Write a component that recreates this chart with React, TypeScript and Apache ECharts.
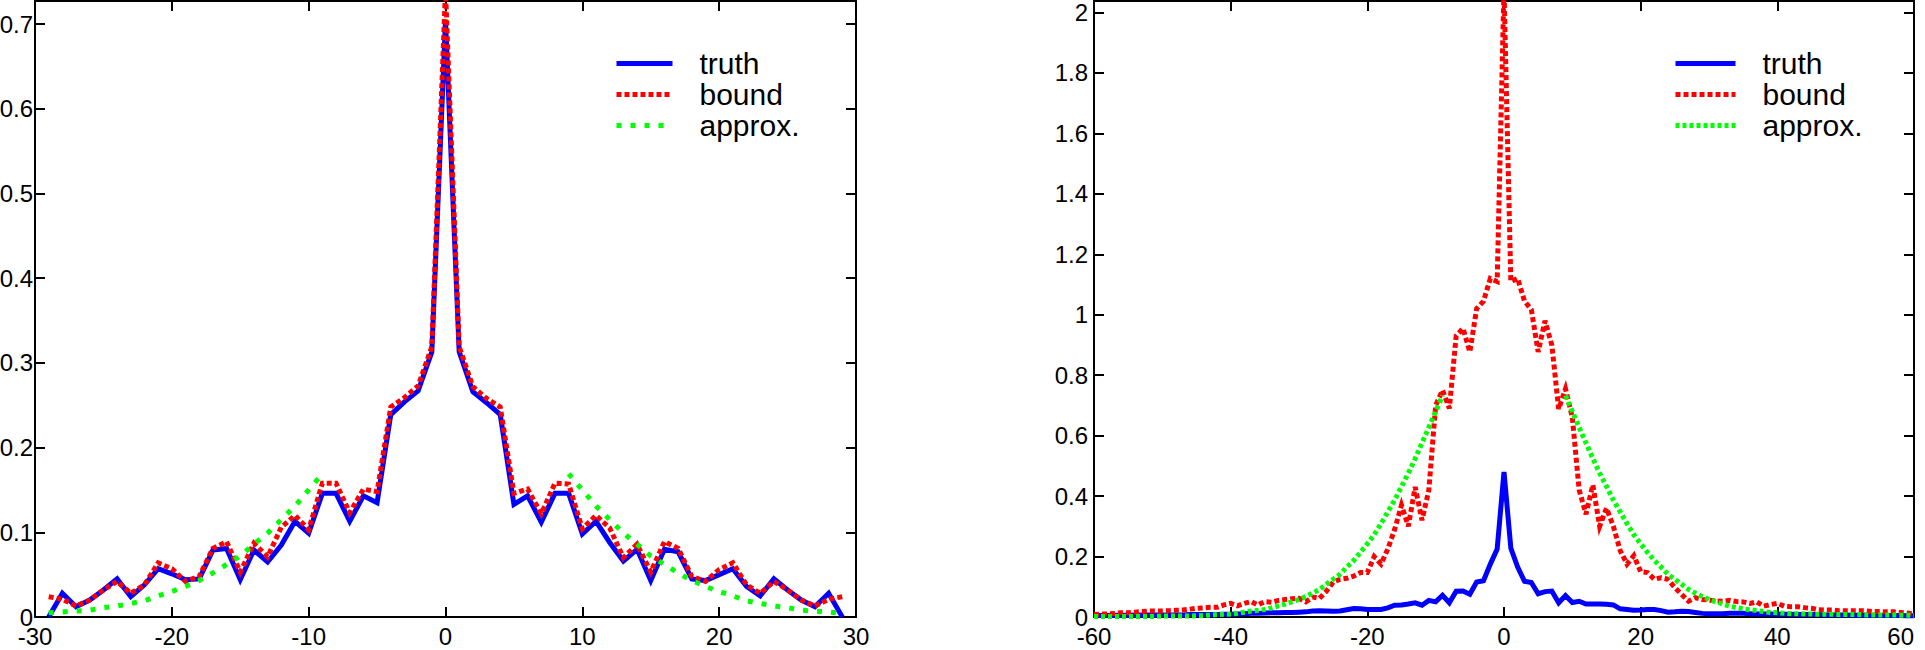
import { useEffect, useRef } from "react";
import * as echarts from "echarts";

// lags (x positions) of the two panels
const leftLags = [
  -29, -28, -27, -26, -25, -24, -23, -22, -21, -20, -19, -18, -17, -16, -15,
  -14, -13, -12, -11, -10, -9, -8, -7, -6, -5, -4, -3, -2, -1, 0, 1, 2, 3, 4,
  5, 6, 7, 8, 9, 10, 11, 12, 13, 14, 15, 16, 17, 18, 19, 20, 21, 22, 23, 24,
  25, 26, 27, 28, 29,
];

const leftTruth = [
  0, 0.028, 0.012, 0.02, 0.032, 0.045, 0.024, 0.038, 0.057, 0.051, 0.044,
  0.045, 0.079, 0.081, 0.044, 0.079, 0.065, 0.085, 0.113, 0.099, 0.146, 0.146,
  0.113, 0.143, 0.135, 0.239, 0.254, 0.267, 0.313, 0.705, 0.313, 0.266, 0.253,
  0.239, 0.133, 0.143, 0.112, 0.146, 0.146, 0.098, 0.113, 0.088, 0.066, 0.08,
  0.043, 0.08, 0.077, 0.045, 0.043, 0.05, 0.057, 0.036, 0.025, 0.045, 0.032,
  0.02, 0.012, 0.028, 0,
];

const leftBound = [
  0.024, 0.021, 0.013, 0.02, 0.032, 0.042, 0.028, 0.038, 0.064, 0.057, 0.042,
  0.048, 0.081, 0.089, 0.053, 0.087, 0.071, 0.106, 0.12, 0.103, 0.158, 0.158,
  0.123, 0.151, 0.148, 0.248, 0.259, 0.273, 0.319, 0.74, 0.319, 0.272, 0.258,
  0.248, 0.146, 0.151, 0.122, 0.158, 0.157, 0.104, 0.12, 0.105, 0.07, 0.086,
  0.053, 0.089, 0.081, 0.048, 0.042, 0.056, 0.064, 0.038, 0.028, 0.042, 0.032,
  0.02, 0.013, 0.021, 0.024,
];

const leftApprox = [
  0.005, 0.006, 0.007, 0.008, 0.011, 0.013, 0.016, 0.019, 0.025, 0.03, 0.036,
  0.043, 0.052, 0.062, 0.072, 0.086, 0.099, 0.115, 0.131, 0.15, 0.169,
  null, null, null, null, null, null, null, null, null, null, null, null, null,
  null, null, null, null,
  0.169, 0.15, 0.131, 0.115, 0.099, 0.086, 0.072, 0.062, 0.052, 0.043, 0.036,
  0.03, 0.025, 0.019, 0.016, 0.013, 0.011, 0.008, 0.007, 0.006, 0.004,
];

const rightLags = [
  -60, -59, -58, -57, -56, -55, -54, -53, -52, -51, -50, -49, -48, -47, -46,
  -45, -44, -43, -42, -41, -40, -39, -38, -37, -36, -35, -34, -33, -32, -31,
  -30, -29, -28, -27, -26, -25, -24, -23, -22, -21, -20, -19, -18, -17, -16,
  -15, -14, -13, -12, -11, -10, -9, -8, -7, -6, -5, -4, -3, -2, -1, 0, 1, 2,
  3, 4, 5, 6, 7, 8, 9, 10, 11, 12, 13, 14, 15, 16, 17, 18, 19, 20, 21, 22, 23,
  24, 25, 26, 27, 28, 29, 30, 31, 32, 33, 34, 35, 36, 37, 38, 39, 40, 41, 42,
  43, 44, 45, 46, 47, 48, 49, 50, 51, 52, 53, 54, 55, 56, 57, 58, 59, 60,
];

const rightTruth = [
  // -60 .. -41
  0.004, 0.005, 0.005, 0.006, 0.006, 0.006, 0.007, 0.007, 0.007, 0.007, 0.007,
  0.007, 0.007, 0.007, 0.008, 0.008, 0.008, 0.008, 0.008, 0.009,
  // -40 .. -31
  0.009, 0.01, 0.011, 0.012, 0.012, 0.013, 0.014, 0.014, 0.015, 0.015,
  // -30 .. -21
  0.016, 0.017, 0.02, 0.021, 0.02, 0.019, 0.02, 0.024, 0.028, 0.027,
  // -20 .. -11
  0.025, 0.025, 0.025, 0.03, 0.039, 0.04, 0.043, 0.047, 0.039, 0.055,
  // -10 .. -1
  0.05, 0.072, 0.047, 0.085, 0.086, 0.075, 0.116, 0.12, 0.175, 0.225,
  // 0
  0.48,
  // 1 .. 10
  0.228, 0.165, 0.118, 0.114, 0.077, 0.084, 0.086, 0.047, 0.071, 0.048,
  // 11 .. 20
  0.052, 0.043, 0.043, 0.043, 0.042, 0.04, 0.027, 0.025, 0.022, 0.023,
  // 21 .. 30
  0.025, 0.025, 0.021, 0.016, 0.017, 0.019, 0.018, 0.015, 0.012, 0.011,
  // 31 .. 40
  0.011, 0.011, 0.012, 0.012, 0.012, 0.011, 0.01, 0.01, 0.01, 0.009,
  // 41 .. 60
  0.009, 0.009, 0.008, 0.008, 0.008, 0.008, 0.007, 0.007, 0.007, 0.007, 0.006,
  0.006, 0.006, 0.006, 0.005, 0.005, 0.005, 0.005, 0.004, 0.004,
];

const rightBound = [
  // -60 .. -41
  0.008, 0.01, 0.01, 0.012, 0.014, 0.014, 0.016, 0.018, 0.02, 0.02, 0.02,
  0.021, 0.022, 0.023, 0.026, 0.029, 0.03, 0.032, 0.032, 0.04,
  // -40 .. -31
  0.045, 0.037, 0.045, 0.051, 0.04, 0.051, 0.049, 0.055, 0.058, 0.06,
  // -30 .. -21
  0.062, 0.05, 0.066, 0.062, 0.085, 0.115, 0.125, 0.128, 0.135, 0.147,
  // -20 .. -11
  0.147, 0.2, 0.175, 0.225, 0.29, 0.37, 0.3, 0.43, 0.32, 0.42,
  // -10 .. -1
  0.7, 0.75, 0.69, 0.93, 0.955, 0.877, 1.02, 1.045, 1.12, 1.11,
  // 0
  2.08,
  // 1 .. 10
  1.11, 1.12, 1.045, 1.017, 0.877, 0.98, 0.9, 0.688, 0.755, 0.66,
  // 11 .. 20
  0.42, 0.34, 0.437, 0.3, 0.36, 0.3, 0.22, 0.175, 0.203, 0.15,
  // 21 .. 30
  0.147, 0.125, 0.13, 0.125, 0.097, 0.075, 0.052, 0.064, 0.058, 0.056,
  // 31 .. 40
  0.053, 0.052, 0.055, 0.051, 0.05, 0.045, 0.05, 0.036, 0.041, 0.045,
  // 41 .. 60
  0.036, 0.034, 0.034, 0.031, 0.029, 0.024, 0.023, 0.023, 0.021, 0.021, 0.021,
  0.021, 0.02, 0.018, 0.018, 0.017, 0.017, 0.015, 0.013, 0.01,
];

const rightApprox = [
  // -60 .. -41
  0.002, 0.002, 0.002, 0.002, 0.002, 0.002, 0.002, 0.002, 0.002, 0.002, 0.003,
  0.003, 0.003, 0.003, 0.003, 0.004, 0.005, 0.006, 0.008, 0.009,
  // -40 .. -31
  0.01, 0.012, 0.016, 0.02, 0.022, 0.025, 0.03, 0.037, 0.043, 0.051,
  // -30 .. -21
  0.058, 0.068, 0.079, 0.091, 0.108, 0.125, 0.141, 0.165, 0.187, 0.214,
  // -20 .. -9
  0.242, 0.272, 0.309, 0.348, 0.387, 0.432, 0.476, 0.524, 0.576, 0.627, 0.68,
  0.733,
  // -8 .. 8 not drawn
  null, null, null, null, null, null, null, null, null, null, null, null, null,
  null, null, null, null,
  // 9 .. 40
  0.733, 0.68, 0.627, 0.576, 0.524, 0.476, 0.432, 0.387, 0.348, 0.309, 0.272,
  0.242, 0.214, 0.187, 0.165, 0.141, 0.125, 0.108, 0.091, 0.079, 0.068, 0.058,
  0.051, 0.043, 0.036, 0.031, 0.027, 0.024, 0.021, 0.018, 0.015, 0.014,
  // 41 .. 60
  0.012, 0.011, 0.011, 0.01, 0.01, 0.009, 0.009, 0.009, 0.008, 0.008, 0.008,
  0.008, 0.007, 0.007, 0.007, 0.007, 0.007, 0.006, 0.006, 0.005,
];

const FONT = "'Liberation Sans', Arial, Helvetica, sans-serif";

const BLUE = "#0000ff";
const RED = "#ff0000";
const GREEN = "#00ff00";

const pairs = (xs: number[], ys: (number | null)[]) =>
  xs.map((x, i) => [x, ys[i] == null ? "-" : ys[i]]);

const roundTo = (step: number) => (v: number) => {
  const k = Math.round(v / step);
  return Math.abs(v - k * step) < 1e-9 ? String(+(k * step).toFixed(4)) : "";
};

function xPair(
  grid: number,
  min: number,
  max: number,
  interval: number,
  alignMax?: string,
) {
  const base = {
    type: "value",
    gridIndex: grid,
    min,
    max,
    interval,
    axisLine: { onZero: false, lineStyle: { color: "#000", width: 2 } },
    axisTick: { inside: true, length: 10, lineStyle: { color: "#000", width: 2 } },
    splitLine: { show: false },
  };
  return [
    {
      ...base,
      position: "bottom",
      axisLabel: {
        color: "#000",
        fontSize: 24,
        fontFamily: FONT,
        margin: 7,
        alignMaxLabel: alignMax,
      },
    },
    { ...base, position: "top", axisLabel: { show: false } },
  ];
}

function yPair(grid: number, max: number, interval: number, gap: number) {
  const base = {
    type: "value",
    gridIndex: grid,
    min: 0,
    max,
    interval,
    axisLine: { onZero: false, lineStyle: { color: "#000", width: 2 } },
    axisTick: { inside: true, length: 10, lineStyle: { color: "#000", width: 2 } },
    splitLine: { show: false },
  };
  return [
    {
      ...base,
      position: "left",
      axisLabel: {
        color: "#000",
        fontSize: 24,
        fontFamily: FONT,
        margin: gap,
        formatter: roundTo(interval),
      },
    },
    { ...base, position: "right", axisLabel: { show: false } },
  ];
}

const hiddenDot = { opacity: 0, borderWidth: 0 };

function legendAt(left: number, iconW: number, approxDash: number[]) {
  return {
    left,
    top: 43,
    orient: "vertical",
    itemWidth: iconW,
    itemHeight: 14,
    itemGap: 0,
    selectedMode: false,
    textStyle: {
      color: "#000",
      fontSize: 30,
      lineHeight: 31,
      fontFamily: FONT,
      padding: [0, 0, 0, 22],
    },
    data: [
      {
        name: "truth",
        itemStyle: hiddenDot,
        lineStyle: { color: BLUE, width: 5, type: "solid" },
      },
      {
        name: "bound",
        itemStyle: hiddenDot,
        lineStyle: { color: RED, width: 5, type: [5, 3] },
      },
      {
        name: "approx.",
        itemStyle: hiddenDot,
        lineStyle: { color: GREEN, width: 5, type: approxDash },
      },
    ],
  };
}

function lineSeries(
  name: string,
  axis: number,
  data: (string | number)[][],
  color: string,
  dash: "solid" | number[],
) {
  return {
    name,
    type: "line",
    xAxisIndex: axis,
    yAxisIndex: axis,
    data,
    symbol: "none",
    connectNulls: false,
    clip: true,
    lineStyle: { color, width: 5, type: dash, join: "miter" },
    itemStyle: { color },
  };
}

export default function App() {
  const chartRef = useRef<HTMLDivElement>(null);

  useEffect(() => {
    if (!chartRef.current) return;
    const chart = echarts.init(chartRef.current, null, { renderer: "svg" });

    chart.setOption({
      animation: false,
      backgroundColor: "#fff",
      grid: [
        { left: 35, top: 1, width: 821, height: 616, outerBoundsMode: "none" },
        { left: 1094, top: 1, width: 820, height: 616, outerBoundsMode: "none" },
      ],
      xAxis: [...xPair(0, -30, 30, 10), ...xPair(1, -60, 60, 20, "right")],
      yAxis: [...yPair(0, 0.7273, 0.1, 2), ...yPair(1, 2.038, 0.2, 6)],
      legend: [legendAt(609, 56, [5, 9]), legendAt(1668, 60, [4, 3])],
      series: [
        lineSeries("truth", 0, pairs(leftLags, leftTruth), BLUE, "solid"),
        lineSeries("bound", 0, pairs(leftLags, leftBound), RED, [5, 3]),
        lineSeries("approx.", 0, pairs(leftLags, leftApprox), GREEN, [5, 9]),
        lineSeries("truth", 2, pairs(rightLags, rightTruth), BLUE, "solid"),
        lineSeries("bound", 2, pairs(rightLags, rightBound), RED, [5, 3]),
        lineSeries("approx.", 2, pairs(rightLags, rightApprox), GREEN, [4, 3]),
      ],
    });

    return () => chart.dispose();
  }, []);

  return (
    <div
      ref={chartRef}
      style={{ position: "absolute", left: 0, top: 0, width: 1925, height: 650 }}
    />
  );
}
